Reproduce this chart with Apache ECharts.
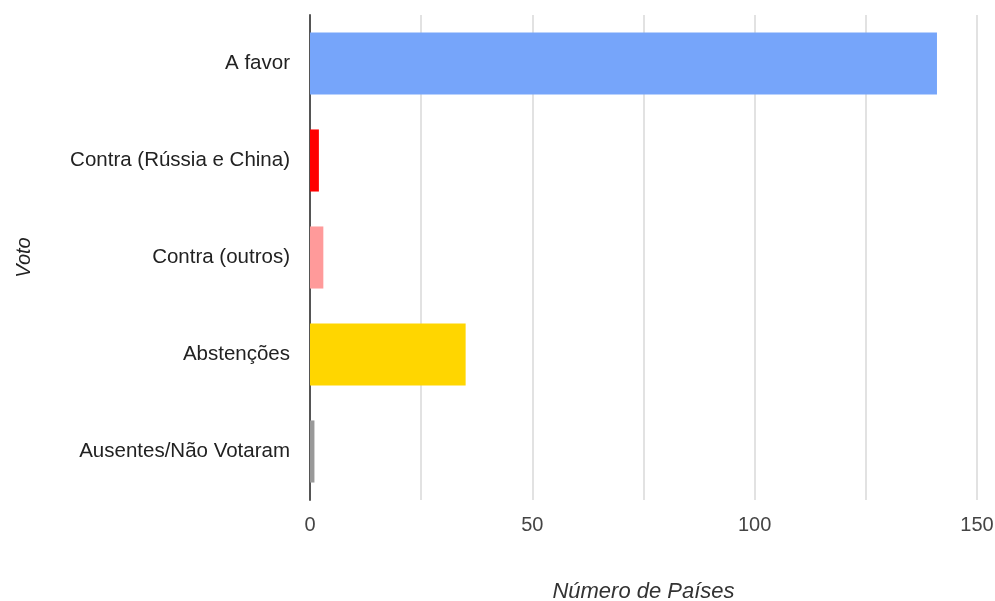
<!DOCTYPE html>
<html>
<head>
<meta charset="utf-8">
<script src="https://cdn.jsdelivr.net/npm/echarts@6/dist/echarts.min.js"></script>
<style>
    html, body { margin: 0; padding: 0; background: #fff; }
    #chart { width: 995px; height: 601px; }
</style>
</head>
<body>
<div id="chart"></div>
<script>
var categories = ['A favor', 'Contra (Rússia e China)', 'Contra (outros)', 'Abstenções', 'Ausentes/Não Votaram'];
var values = [141, 2, 3, 35, 1];
var barColors = ['#76a5fa', '#ff0000', '#ff9a9a', '#ffd600', '#999999'];
var xTicks = [0, 50, 100, 150];

var chart = echarts.init(document.getElementById('chart'));
var option = {
    animation: false,
    grid: { left: 310, right: 18, top: 15, bottom: 101, outerBoundsMode: 'none', containLabel: false },
    xAxis: {
        type: 'value',
        min: 0,
        max: 150,
        interval: 25,
        name: 'Número de Países',
        nameLocation: 'middle',
        nameGap: 81,
        nameTextStyle: { fontFamily: 'Liberation Sans', fontSize: 22, fontStyle: 'italic', color: '#333' },
        axisLine: { show: false },
        axisTick: { show: false },
        splitLine: { lineStyle: { color: '#e2e2e2', width: 2 } },
        axisLabel: {
            fontFamily: 'Liberation Sans', fontSize: 20, color: '#444', margin: 15,
            formatter: function (v) { return xTicks.indexOf(v) >= 0 ? String(v) : ''; }
        }
    },
    yAxis: {
        type: 'category',
        data: categories,
        inverse: true,
        name: 'Voto',
        nameLocation: 'middle',
        nameGap: 276,
        nameTextStyle: { fontFamily: 'Liberation Sans', fontSize: 20, fontStyle: 'italic', color: '#222' },
        axisLine: { show: true, lineStyle: { color: '#555', width: 2 } },
        axisTick: { show: false },
        axisLabel: { fontFamily: 'Liberation Sans', fontSize: 20.5, color: '#222', margin: 20 }
    },
    series: [{
        type: 'bar',
        data: values.map(function (v, i) { return { value: v, itemStyle: { color: barColors[i] } }; }),
        barCategoryGap: '36%'
    }]
};
chart.setOption(option);
</script>
</body>
</html>
